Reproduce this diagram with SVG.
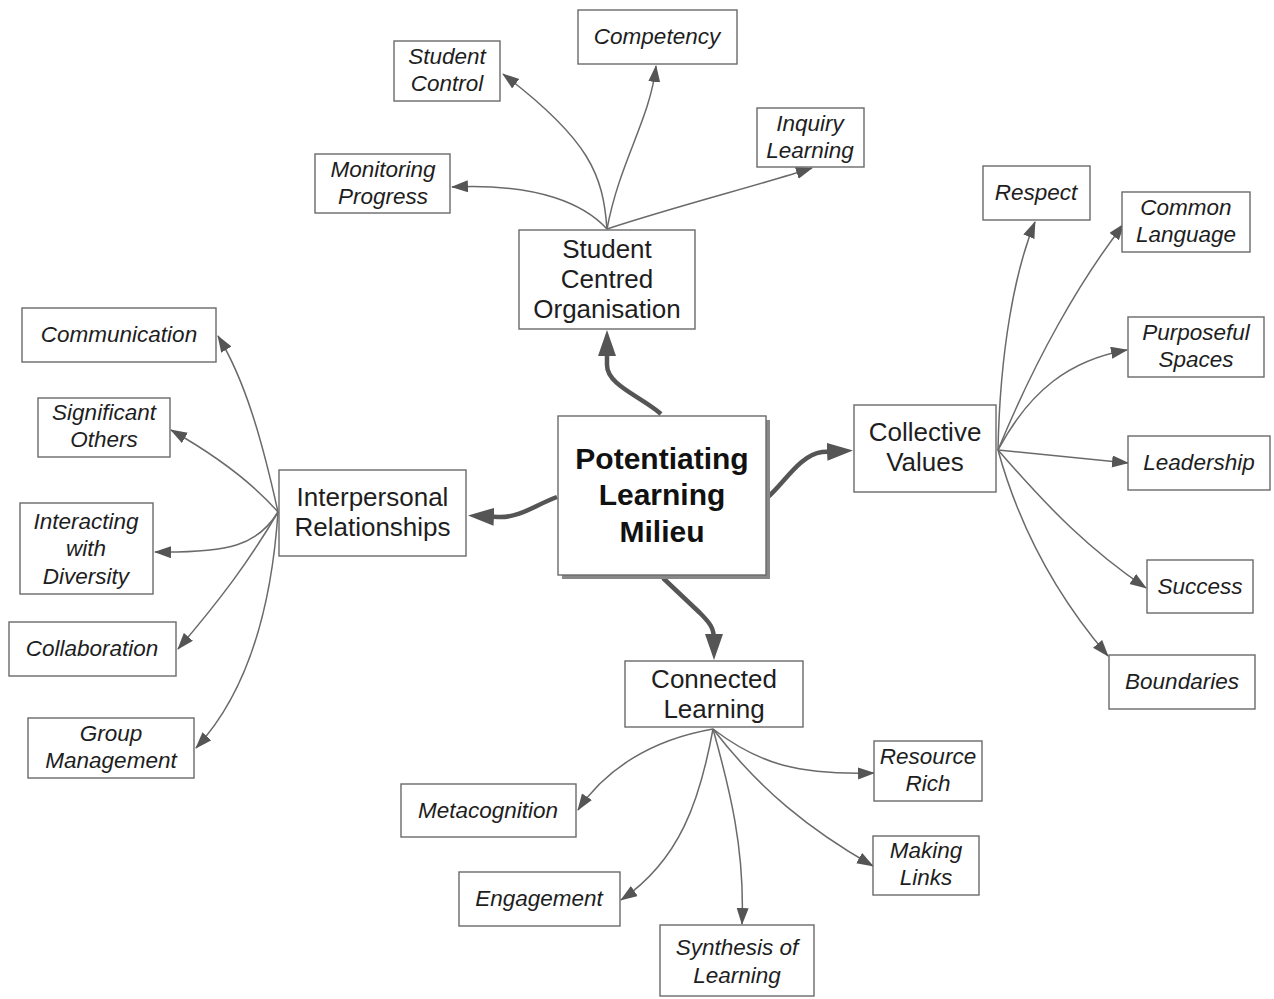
<svg xmlns="http://www.w3.org/2000/svg" width="1274" height="999" viewBox="0 0 1274 999">
<style>
.box{fill:#fff;stroke:#6a6a6a;stroke-width:1.4}
.main{font-family:"Liberation Sans",Arial,sans-serif;font-size:26px;fill:#1e1e1e;text-anchor:middle}
.leaf{font-family:"Liberation Sans",Arial,sans-serif;font-size:22.5px;font-style:italic;fill:#1e1e1e;text-anchor:middle}
.hub{font-family:"Liberation Sans",Arial,sans-serif;font-size:30px;font-weight:bold;fill:#111;text-anchor:middle}
.thin{fill:none;stroke:#6a6a6a;stroke-width:1.5;marker-end:url(#ah)}
.thick{fill:none;stroke:#555;stroke-width:4.5;stroke-linejoin:round;marker-end:url(#AH)}
</style>
<defs>
<marker id="ah" markerUnits="userSpaceOnUse" markerWidth="18" markerHeight="13" refX="16" refY="6" orient="auto"><path d="M0,0 L17,6 L0,12 z" fill="#555"/></marker>
<marker id="AH" markerUnits="userSpaceOnUse" markerWidth="27" markerHeight="19" refX="15" refY="9" orient="auto"><path d="M0,0 L26,9 L0,18 z" fill="#555"/></marker>
</defs>
<rect width="1274" height="999" fill="#fff"/>
<g id="connectors">
<path class="thick" d="M661,414 C640,396 607,385 607,365 L607,341"/>
<path class="thick" d="M768,497 C785,482 800,455 822,452 L842,451"/>
<path class="thick" d="M557,497 C535,505 520,518 498,517 L479,516"/>
<path class="thick" d="M663,578 L700,613 C710,623 714,628 714,640 L714,649"/>
<path class="thin" d="M607,229 C585,205 540,183 452,187"/>
<path class="thin" d="M607,229 C603,175 590,140 503,74"/>
<path class="thin" d="M607,229 C620,160 650,120 656,66"/>
<path class="thin" d="M607,229 C680,205 760,185 812,168"/>
<path class="thin" d="M998,450 C1000,350 1015,270 1035,222"/>
<path class="thin" d="M998,450 C1035,360 1080,280 1124,224"/>
<path class="thin" d="M998,450 C1030,390 1070,360 1127,350"/>
<path class="thin" d="M998,450 L1128,463"/>
<path class="thin" d="M998,450 C1050,510 1090,550 1146,588"/>
<path class="thin" d="M998,450 C1020,530 1060,600 1108,656"/>
<path class="thin" d="M278,512 C262,440 245,380 218,336"/>
<path class="thin" d="M278,512 C250,480 215,455 171,430"/>
<path class="thin" d="M278,512 C258,545 230,553 155,552"/>
<path class="thin" d="M278,512 C250,560 220,600 178,649"/>
<path class="thin" d="M278,512 C272,600 250,690 196,748"/>
<path class="thin" d="M713,729 C650,740 605,770 578,810"/>
<path class="thin" d="M713,729 C700,800 680,860 621,900"/>
<path class="thin" d="M713,729 C730,790 745,850 742,924"/>
<path class="thin" d="M713,729 C760,765 800,775 874,773"/>
<path class="thin" d="M713,729 C760,790 810,830 873,866"/>
</g>
<g id="hub">
<rect x="562" y="420" width="208" height="159" fill="#888"/>
<rect class="box" x="558" y="416" width="208" height="159"/>
<text class="hub" x="662" y="469">Potentiating</text>
<text class="hub" x="662" y="505">Learning</text>
<text class="hub" x="662" y="542">Milieu</text>
</g>
<g id="student-centred"><rect class="box" x="519" y="230" width="176" height="99"/><text class="main" x="607" y="258">Student</text><text class="main" x="607" y="288">Centred</text><text class="main" x="607" y="318">Organisation</text></g>
<g id="collective-values"><rect class="box" x="854" y="405" width="142" height="87"/><text class="main" x="925" y="441">Collective</text><text class="main" x="925" y="471">Values</text></g>
<g id="interpersonal"><rect class="box" x="279" y="470" width="187" height="86"/><text class="main" x="372.5" y="506">Interpersonal</text><text class="main" x="372.5" y="536">Relationships</text></g>
<g id="connected-learning"><rect class="box" x="625" y="661" width="178" height="66"/><text class="main" x="714" y="688">Connected</text><text class="main" x="714" y="718">Learning</text></g>
<g id="competency"><rect class="box" x="578" y="10" width="159" height="54"/><text class="leaf" x="657" y="44">Competency</text></g>
<g id="student-control"><rect class="box" x="394" y="41" width="106" height="60"/><text class="leaf" x="447" y="64">Student</text><text class="leaf" x="447" y="91">Control</text></g>
<g id="inquiry-learning"><rect class="box" x="757" y="108" width="107" height="59"/><text class="leaf" x="810" y="131">Inquiry</text><text class="leaf" x="810" y="158">Learning</text></g>
<g id="monitoring-progress"><rect class="box" x="315" y="154" width="135" height="59"/><text class="leaf" x="383" y="177">Monitoring</text><text class="leaf" x="383" y="204">Progress</text></g>
<g id="respect"><rect class="box" x="983" y="166" width="107" height="54"/><text class="leaf" x="1036" y="200">Respect</text></g>
<g id="common-language"><rect class="box" x="1122" y="192" width="128" height="60"/><text class="leaf" x="1186" y="215">Common</text><text class="leaf" x="1186" y="242">Language</text></g>
<g id="purposeful-spaces"><rect class="box" x="1128" y="317" width="136" height="60"/><text class="leaf" x="1196" y="340">Purposeful</text><text class="leaf" x="1196" y="367">Spaces</text></g>
<g id="leadership"><rect class="box" x="1128" y="436" width="142" height="54"/><text class="leaf" x="1199" y="470">Leadership</text></g>
<g id="success"><rect class="box" x="1147" y="560" width="106" height="53"/><text class="leaf" x="1200" y="594">Success</text></g>
<g id="boundaries"><rect class="box" x="1109" y="655" width="146" height="54"/><text class="leaf" x="1182" y="689">Boundaries</text></g>
<g id="communication"><rect class="box" x="22" y="308" width="194" height="54"/><text class="leaf" x="119" y="342">Communication</text></g>
<g id="significant-others"><rect class="box" x="38" y="398" width="132" height="59"/><text class="leaf" x="104" y="420">Significant</text><text class="leaf" x="104" y="447">Others</text></g>
<g id="interacting-diversity"><rect class="box" x="20" y="503" width="133" height="91"/><text class="leaf" x="86" y="529">Interacting</text><text class="leaf" x="86" y="556">with</text><text class="leaf" x="86" y="584">Diversity</text></g>
<g id="collaboration"><rect class="box" x="9" y="622" width="167" height="54"/><text class="leaf" x="92" y="656">Collaboration</text></g>
<g id="group-management"><rect class="box" x="28" y="718" width="166" height="60"/><text class="leaf" x="111" y="741">Group</text><text class="leaf" x="111" y="768">Management</text></g>
<g id="metacognition"><rect class="box" x="401" y="784" width="175" height="53"/><text class="leaf" x="488" y="818">Metacognition</text></g>
<g id="engagement"><rect class="box" x="459" y="872" width="161" height="54"/><text class="leaf" x="539" y="906">Engagement</text></g>
<g id="synthesis"><rect class="box" x="660" y="925" width="154" height="71"/><text class="leaf" x="737" y="955">Synthesis of</text><text class="leaf" x="737" y="983">Learning</text></g>
<g id="resource-rich"><rect class="box" x="874" y="741" width="108" height="60"/><text class="leaf" x="928" y="764">Resource</text><text class="leaf" x="928" y="791">Rich</text></g>
<g id="making-links"><rect class="box" x="873" y="836" width="106" height="59"/><text class="leaf" x="926" y="858">Making</text><text class="leaf" x="926" y="885">Links</text></g>
</svg>
